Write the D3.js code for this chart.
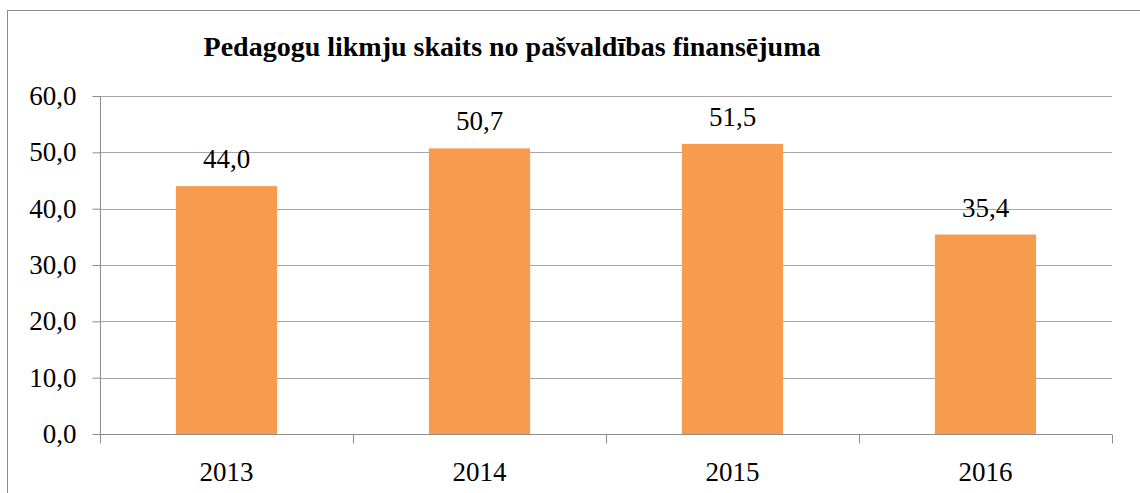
<!DOCTYPE html>
<html>
<head>
<meta charset="utf-8">
<script src="https://cdn.jsdelivr.net/npm/d3@7.9.0/dist/d3.min.js"></script>
<style>
  body { margin: 0; background: #fff; }
  svg { display: block; }
  svg text { font-family: "Liberation Serif", "DejaVu Serif", serif; }
</style>
</head>
<body>
<div id="chart"></div>
<script>
const title = 'Pedagogu likmju skaits no pašvaldības finansējuma';
const years = ['2013', '2014', '2015', '2016'];
const values = [44.0, 50.7, 51.5, 35.4];
const yTicks = [0, 10, 20, 30, 40, 50, 60];

const width = 1140;
const height = 493;
const margin = { top: 96, right: 28, bottom: 59, left: 100 };

const fmt = (d) => d.toFixed(1).replace('.', ',');

const svg = d3.select('#chart')
  .append('svg')
  .attr('width', width)
  .attr('height', height);

// outer chart border (runs past the right and bottom edges)
svg.append('rect')
  .attr('x', 7.5)
  .attr('y', 10.5)
  .attr('width', width + 20)
  .attr('height', height + 20)
  .attr('fill', 'none')
  .attr('stroke', '#8c8c8c')
  .attr('stroke-width', 1);

const x = d3.scaleBand()
  .domain(years)
  .range([margin.left, width - margin.right])
  .paddingInner(0.6)
  .paddingOuter(0.3);

const xOuter = d3.scaleBand()
  .domain(years)
  .range([margin.left, width - margin.right]);

const y = d3.scaleLinear()
  .domain([0, 60])
  .range([height - margin.bottom, margin.top]);

// gridlines
svg.append('g')
  .attr('class', 'gridlines')
  .selectAll('line')
  .data(yTicks.filter(d => d > 0))
  .join('line')
  .attr('x1', margin.left)
  .attr('x2', width - margin.right)
  .attr('y1', d => Math.round(y(d)) + 0.5)
  .attr('y2', d => Math.round(y(d)) + 0.5)
  .attr('stroke', '#a6a6a6')
  .attr('stroke-width', 1);

// bars
svg.append('g')
  .selectAll('rect')
  .data(values)
  .join('rect')
  .attr('x', (d, i) => x(years[i]))
  .attr('width', x.bandwidth())
  .attr('y', d => y(d))
  .attr('height', d => y(0) - y(d))
  .attr('fill', '#f79b4f');

// y axis
const yAxis = svg.append('g')
  .attr('transform', `translate(${margin.left + 0.5},0)`)
  .call(d3.axisLeft(y).tickValues(yTicks).tickFormat(fmt).tickSize(8).tickPadding(16))
  .attr('font-family', null)
  .attr('font-size', null);
yAxis.select('.domain').attr('stroke', '#8c8c8c').attr('d', `M0,${y(60)}V${y(0)}`);
yAxis.selectAll('.tick line').attr('stroke', '#8c8c8c');
yAxis.selectAll('.tick text')
  .attr('font-size', 27)
  .attr('fill', '#000');

// x axis
const xAxisG = svg.append('g')
  .attr('transform', `translate(0,${Math.round(y(0)) + 0.5})`);
xAxisG.append('line')
  .attr('x1', margin.left)
  .attr('x2', width - margin.right)
  .attr('stroke', '#8c8c8c');
const boundaries = years.map(d => xOuter(d)).concat([width - margin.right]);
xAxisG.selectAll('.tk')
  .data(boundaries)
  .join('line')
  .attr('class', 'tk')
  .attr('x1', d => Math.round(d) + 0.5)
  .attr('x2', d => Math.round(d) + 0.5)
  .attr('y1', 0)
  .attr('y2', 9)
  .attr('stroke', '#8c8c8c');
xAxisG.selectAll('text')
  .data(years)
  .join('text')
  .attr('x', d => xOuter(d) + xOuter.bandwidth() / 2)
  .attr('y', 46)
  .attr('text-anchor', 'middle')
  .attr('font-size', 27)
  .attr('fill', '#000')
  .text(d => d);

// data labels
svg.append('g')
  .selectAll('text')
  .data(values)
  .join('text')
  .attr('x', (d, i) => x(years[i]) + x.bandwidth() / 2)
  .attr('y', d => y(d) - 18)
  .attr('text-anchor', 'middle')
  .attr('font-size', 27)
  .attr('fill', '#000')
  .text(fmt);

// title
svg.append('text')
  .attr('x', 512)
  .attr('y', 56)
  .attr('text-anchor', 'middle')
  .attr('font-size', 28)
  .attr('font-weight', 'bold')
  .attr('fill', '#000')
  .text(title);
</script>
</body>
</html>
